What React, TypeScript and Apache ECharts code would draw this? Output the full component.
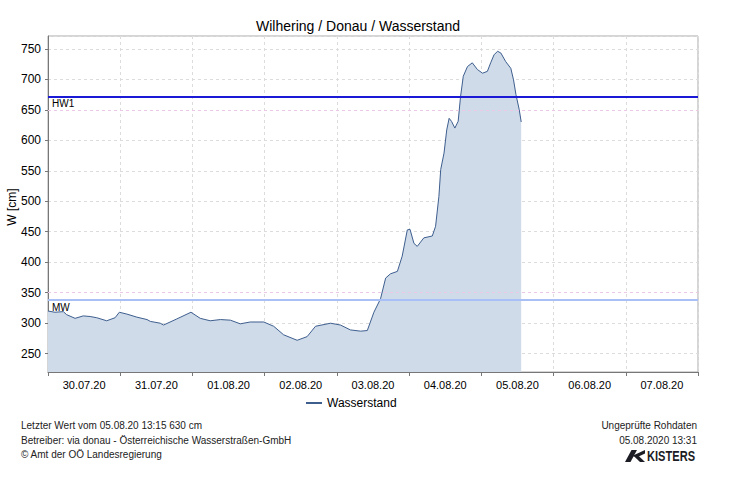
import React, { useEffect, useRef } from "react";
import * as echarts from "echarts";

// Hours since 30.07.20 00:00 and water level [cm]
const hours = [0,2.3,5.1,6.2,9.0,11.7,14.0,16.2,19.5,22.3,23.7,26.2,29.5,32.9,34.0,37.3,38.4,42.8,47.5,50.6,53.9,57.3,60.6,63.9,67.2,71.7,75.0,78.3,82.8,86.1,88.9,93.9,97.2,100.5,103.9,106.1,108.3,110.5,112.2,113.8,116.1,117.7,119.4,120.3,121.6,122.7,124.9,127.7,128.8,129.9,130.5,131.6,132.5,133.3,134.1,135.2,136.3,137.1,138.0,139.4,141.0,142.7,144.4,146.0,147.1,148.2,149.4,150.5,152.1,153.8,154.7,155.5,156.6,157.25];
const levels = [320,318,319,314,308,312,311,309,304,309,318,315,310,306,303,300,297,307,318,308,304,306,305,299,302,302,295,281,272,278,295,300,297,289,287,288,318,340,374,381,385,410,453,454,431,426,440,443,459,508,552,579,617,636,631,620,631,672,705,721,727,716,710,713,727,740,746,743,729,718,699,675,650,630];
const dayLabels = ["30.07.20","31.07.20","01.08.20","02.08.20","03.08.20","04.08.20","05.08.20","06.08.20","07.08.20"];
const HW1 = 671;
const MW = 338;
const tintedGrid = [650, 350];

const FONT = '"Liberation Sans", Arial, sans-serif';

export default function App() {
  const ref = useRef<HTMLDivElement>(null);
  useEffect(() => {
    const chart = echarts.init(ref.current!, null, { renderer: "svg" });
    const tickVals = dayLabels.map((_, i) => i * 24).concat([216]);
    const labelVals = dayLabels.map((_, i) => i * 24 + 12);
    const leftText = (y: number, t: string) => ({
      type: "text", x: 21, y,
      style: { text: t, font: `10px ${FONT}`, fill: "#222", verticalAlign: "middle", align: "left" },
    });
    const rightText = (y: number, t: string) => ({
      type: "text", x: 697, y,
      style: { text: t, font: `10px ${FONT}`, fill: "#222", verticalAlign: "middle", align: "right" },
    });
    chart.setOption({
      animation: false,
      backgroundColor: "#fff",
      textStyle: { fontFamily: FONT },
      grid: { left: 48, top: 36, right: 38, bottom: 117, show: true, borderColor: "#aaa", borderWidth: 1, containLabel: false, outerBoundsMode: "none" },
      legend: {
        data: ["Wasserstand"], left: 301, top: 392, itemWidth: 16, itemHeight: 2, itemGap: 4,
        textStyle: { fontSize: 12, color: "#000", fontFamily: FONT },
        icon: "rect",
      },
      xAxis: {
        type: "value", min: 0, max: 216, interval: 8,
        axisLine: { show: true, lineStyle: { color: "#777" } },
        axisTick: { show: true, customValues: tickVals, length: 4, lineStyle: { color: "#777" } },
        axisLabel: {
          customValues: labelVals, fontSize: 11, color: "#000", margin: 7, fontFamily: FONT,
          formatter: (v: number) => dayLabels[Math.floor(v / 24)] || "",
        },
        splitLine: { show: true, lineStyle: { color: "#dcdcdc", type: [3, 3] } },
      },
      yAxis: {
        type: "value", min: 220, max: 771, splitNumber: 11, minInterval: 50, maxInterval: 50,
        axisLine: { show: true, lineStyle: { color: "#777" } },
        axisTick: { show: true, length: 3, lineStyle: { color: "#777" } },
        axisLabel: { fontSize: 12, color: "#000", margin: 7, showMinLabel: false, showMaxLabel: false, fontFamily: FONT },
        splitLine: { show: true, lineStyle: { color: "#dcdcdc", type: [3, 3] } },
      },
      series: [
        {
          name: "Wasserstand", type: "line", symbol: "none",
          data: hours.map((h, i) => [h, levels[i]]),
          lineStyle: { color: "#3e5e8e", width: 1 },
          itemStyle: { color: "#3e5e8e" },
          areaStyle: { color: "#cfdbe9", opacity: 1 },
          markLine: {
            silent: true, symbol: "none",
            data: [
              ...tintedGrid.map((v) => ({ yAxis: v, lineStyle: { color: "#ecc8e6", width: 1, type: [3, 3] }, label: { show: false } })),
              { yAxis: MW, lineStyle: { color: "#a9c0f7", width: 2, type: "solid" },
                label: { show: true, formatter: "MW", position: "insideStartBottom", color: "#000", fontSize: 10, distance: [4, 2], fontFamily: FONT } },
              { yAxis: HW1, lineStyle: { color: "#1a1ad6", width: 2, type: "solid" },
                label: { show: true, formatter: "HW1", position: "insideStartBottom", color: "#000", fontSize: 10, distance: [4, 2], fontFamily: FONT } },
            ],
          },
        },
      ],
      graphic: [
        { type: "text", x: 256, y: 26, style: { text: "Wilhering / Donau / Wasserstand", font: `14px ${FONT}`, fill: "#000", verticalAlign: "middle" } },
        { type: "text", x: 12, y: 207, rotation: Math.PI / 2, style: { text: "W [cm]", font: `12px ${FONT}`, fill: "#000", align: "center", verticalAlign: "middle" } },
        leftText(425, "Letzter Wert vom 05.08.20 13:15 630 cm"),
        leftText(440, "Betreiber: via donau - Österreichische Wasserstraßen-GmbH"),
        leftText(454, "© Amt der OÖ Landesregierung"),
        rightText(425, "Ungeprüfte Rohdaten"),
        rightText(440, "05.08.2020 13:31"),
        { type: "polygon", shape: { points: [[625, 462], [630.5, 462], [637, 450], [631.5, 450]] }, style: { fill: "#1c1c24" } },
        { type: "polygon", shape: { points: [[632, 456], [645, 450], [645, 453.5], [637, 457.2]] }, style: { fill: "#1c1c24" } },
        { type: "polygon", shape: { points: [[634, 456.2], [638.5, 455.8], [645, 462], [640, 462]] }, style: { fill: "#1c1c24" } },
        { type: "text", x: 647, y: 456, scaleX: 0.74, style: { text: "KISTERS", font: `bold 15px ${FONT}`, fill: "#1c1c24", verticalAlign: "middle", align: "left" } },
      ],
    });
    return () => chart.dispose();
  }, []);
  return <div ref={ref} style={{ position: "fixed", left: 0, top: 0, width: 736, height: 489, background: "#fff" }} />;
}
